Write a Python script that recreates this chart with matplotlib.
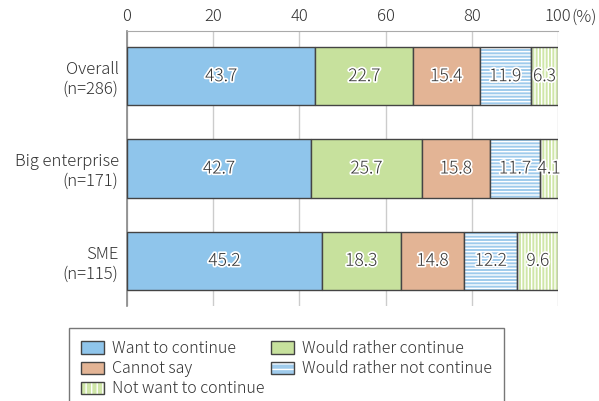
import numpy as np
import matplotlib.pyplot as plt
import matplotlib.patheffects as pe
from matplotlib.patches import Patch
from matplotlib.legend_handler import HandlerTuple
from matplotlib.transforms import offset_copy

plt.rcParams['font.family'] = ['Noto Sans CJK JP', 'DejaVu Sans']
plt.rcParams['font.weight'] = 'light'

groups = ["Overall\n(n=286)", "Big enterprise\n(n=171)", "SME\n(n=115)"]
answers = ["Want to continue", "Would rather continue", "Cannot say",
           "Would rather not continue", "Not want to continue"]
want = [43.7, 42.7, 45.2]
rather = [22.7, 25.7, 18.3]
cannot = [15.4, 15.8, 14.8]
rather_not = [11.9, 11.7, 12.2]
not_want = [6.3, 4.1, 9.6]
ticks = [0, 20, 40, 60, 80, 100]

series = [want, rather, cannot, rather_not, not_want]
faces = ["#8fc5eb", "#c7e19d", "#e3b495", "#9fcbec", "#cfe6a8"]
hatches = [None, None, None, "-----", "|||||"]
edge = "#444444"
text_col = "#333333"

fig = plt.figure(figsize=(5.99, 4.01), dpi=100)
ax = fig.add_axes([0.212, 0.237, 0.7195, 0.6858])

y = np.arange(len(groups))
left = np.zeros(len(groups))
for vals, fc, h in zip(series, faces, hatches):
    vals = np.array(vals)
    if h is None:
        ax.barh(y, vals, left=left, height=0.63, color=fc,
                edgecolor=edge, linewidth=1.0, zorder=3)
    else:
        ax.barh(y, vals, left=left, height=0.63, color=fc, hatch=h,
                edgecolor="white", linewidth=0, zorder=3)
        ax.barh(y, vals, left=left, height=0.63, color="none",
                edgecolor=edge, linewidth=1.0, zorder=4)
    for yi, l, v in zip(y, left, vals):
        ax.text(l + v / 2, yi, f"{v:.1f}", ha="center", va="center",
                fontsize=12.5, color=text_col, zorder=5,
                path_effects=[pe.withStroke(linewidth=2.5, foreground="white")])
    left = left + vals

ax.set_xlim(0, 100)
ax.set_ylim(2.49, -0.49)
ax.set_yticks(y)
ax.set_yticklabels(groups, fontsize=12, color=text_col, ha="right",
                   multialignment="right")
ax.set_xticks(ticks)
ax.set_xticklabels([str(t) for t in ticks], fontsize=12, color=text_col)
ax.xaxis.tick_top()
ax.tick_params(axis="both", length=0, pad=6)
ax.xaxis.set_tick_params(pad=4)
ax.grid(axis="x", color="#cccccc", linewidth=1.0, zorder=0)

# unit label just right of the "100" tick
unit_tr = offset_copy(ax.get_xaxis_transform(), fig=fig, x=9.5, y=4, units="points")
ax.text(100, 1.0, "(%)", transform=unit_tr, fontsize=12,
        color=text_col, ha="left", va="bottom")

for s in ["right", "bottom"]:
    ax.spines[s].set_visible(False)
ax.spines["top"].set_color("#aaaaaa")
ax.spines["left"].set_color("#888888")
ax.spines["left"].set_linewidth(1.2)

handles = []
for name, fc, h in zip(answers, faces, hatches):
    if h is None:
        handles.append(Patch(facecolor=fc, edgecolor=edge, label=name))
    else:
        handles.append((Patch(facecolor=fc, edgecolor="white", hatch=h[:3], linewidth=0),
                        Patch(facecolor="none", edgecolor=edge)))
order = [0, 2, 4, 1, 3]
leg = fig.legend([handles[i] for i in order], [answers[i] for i in order],
                 loc="upper left", bbox_to_anchor=(0.115, 0.182), ncol=2,
                 fontsize=11.5, frameon=True, fancybox=False, edgecolor="#555555",
                 handlelength=1.45, handleheight=0.8, columnspacing=0.4,
                 labelspacing=0.2, borderpad=0.75, handletextpad=0.5,
                 borderaxespad=0, labelcolor=text_col,
                 handler_map={tuple: HandlerTuple(ndivide=1, pad=0)})
leg.get_frame().set_linewidth(1.0)

fig.savefig("out.png", dpi=100)
